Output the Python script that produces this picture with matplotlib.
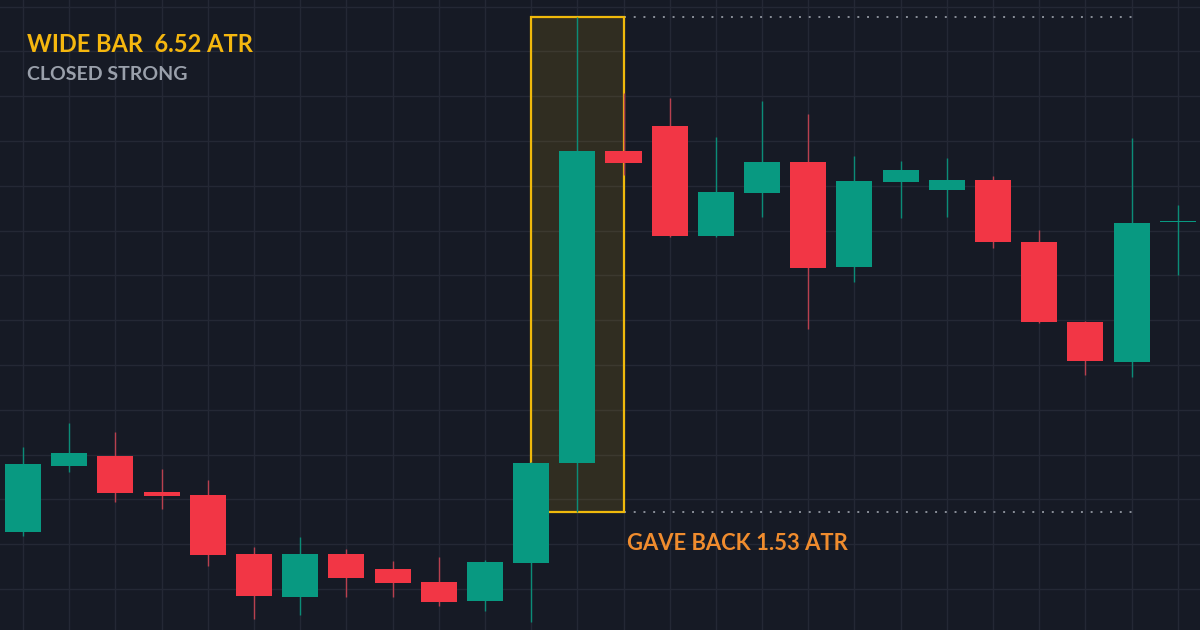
import matplotlib
matplotlib.use("Agg")
import matplotlib.pyplot as plt
from matplotlib.patches import Rectangle
from matplotlib.ticker import MultipleLocator

# OHLC
opens  = [101.27, 102.75, 102.97, 102.17, 102.10, 100.78, 99.82, 100.78, 100.45, 100.16,
          99.73, 100.58, 102.81, 109.78, 110.33, 107.88, 108.84, 109.53, 107.19, 109.08,
          108.91, 109.13, 107.75, 105.96, 105.07, 108.19]
highs  = [103.17, 103.71, 103.50, 102.68, 102.43, 100.94, 101.16, 100.89, 100.63, 100.71,
          100.65, 102.83, 112.77, 111.07, 110.96, 110.09, 110.89, 110.60, 109.67, 109.55,
          109.62, 109.22, 108.01, 105.98, 110.07, 108.57]
lows   = [101.18, 102.61, 101.94, 101.79, 100.51, 99.33, 99.42, 99.82, 99.82, 99.62,
          99.51, 99.26, 101.72, 109.24, 107.86, 107.86, 108.30, 105.80, 106.85, 108.28,
          108.30, 107.61, 105.94, 104.78, 104.73, 107.01]
closes = [102.79, 103.04, 102.14, 102.08, 100.76, 99.84, 100.78, 100.25, 100.13, 99.71,
          100.60, 102.81, 109.78, 109.51, 107.88, 108.86, 109.53, 107.17, 109.11, 109.35,
          109.13, 107.75, 105.96, 105.09, 108.17, 108.19]

wide_bar = 12
wide_atr = "6.52"
gave_back_atr = "1.53"

BG = "#161a25"
GRID = "#242835"
UP = "#089981"
DOWN = "#f23645"
UP_WICK = "#0b8c77"
DOWN_WICK = "#b8404f"
BOX = "#f0b90b"

plt.rcParams['font.family'] = ['Lato', 'DejaVu Sans']

fig = plt.figure(figsize=(12, 6.3), dpi=100, facecolor=BG)
ax = fig.add_axes([0, 0, 1, 1])
ax.set_facecolor(BG)

n = len(opens)
ax.set_xlim(-0.498, 25.48)
ax.set_ylim(99.085, 113.147)

ax.xaxis.set_major_locator(MultipleLocator(1))
ax.yaxis.set_major_locator(MultipleLocator(1))
ax.grid(True, color=GRID, lw=1)
ax.set_axisbelow(True)
ax.tick_params(length=0, labelbottom=False, labelleft=False)
for s in ax.spines.values():
    s.set_visible(False)

# highlight box around the wide bar
h, l = highs[wide_bar], lows[wide_bar]
ax.add_patch(Rectangle((wide_bar - 1, l), 2, h - l, facecolor=BOX, alpha=0.12,
                       edgecolor="none", zorder=1))
ax.add_patch(Rectangle((wide_bar - 1, l), 2, h - l, facecolor="none",
                       edgecolor=BOX, lw=1.6, zorder=1.5))
ax.plot([wide_bar + 1, 24], [h, h], color="#8a8f99", lw=1.4, ls=(0, (1, 4)), zorder=1)
ax.plot([wide_bar + 1, 24], [l, l], color="#8a8f99", lw=1.4, ls=(0, (1, 4)), zorder=1)

width = 0.78
for i in range(n):
    o, hi, lo, c = opens[i], highs[i], lows[i], closes[i]
    up = c >= o
    col = UP if up else DOWN
    wcol = UP_WICK if up else DOWN_WICK
    ax.plot([i, i], [lo, hi], color=wcol, lw=1, zorder=2, solid_capstyle="butt")
    bottom = min(o, c)
    height = max(abs(c - o), 0.03)
    ax.add_patch(Rectangle((i - width / 2, bottom), width, height, facecolor=col,
                           edgecolor="none", zorder=3))

ax.text(27 / 1200, 1 - 44 / 630, f"WIDE BAR  {wide_atr} ATR", transform=ax.transAxes,
        color="#f5b70f", fontsize=17, fontweight="bold", va="center", ha="left")
ax.text(27 / 1200, 1 - 75 / 630, "CLOSED STRONG", transform=ax.transAxes,
        color="#9aa0ab", fontsize=14, fontweight="bold", va="center", ha="left")
ax.text(627 / 1200, 1 - 543 / 630, f"GAVE BACK {gave_back_atr} ATR", transform=ax.transAxes,
        color="#f08c2e", fontsize=15.8, fontweight="bold", va="center", ha="left")

fig.savefig("out.png", dpi=100, facecolor=BG)
